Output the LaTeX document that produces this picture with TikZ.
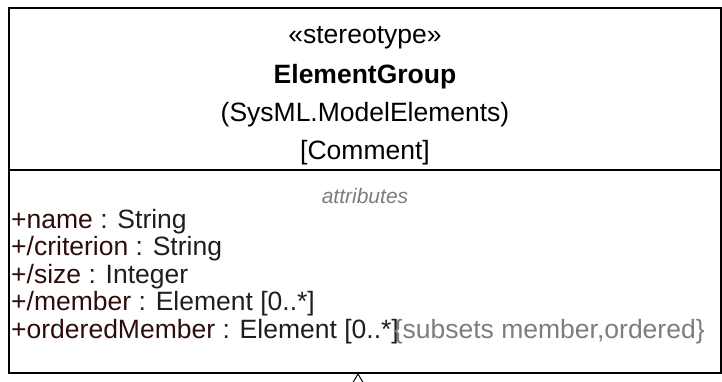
\documentclass[tikz,border=0pt]{standalone}
\usepackage{fontspec}
\usetikzlibrary{arrows.meta}
\newfontfamily\umlfont{Liberation Sans}
\definecolor{namecol}{RGB}{45,12,12}
\definecolor{typecol}{RGB}{30,30,30}
\definecolor{notecol}{RGB}{125,125,125}

\begin{document}
\begin{tikzpicture}[x=1pt,y=-1pt]
        \tikzset{
            hdr/.style={anchor=base, inner sep=0pt, font=\umlfont\fontsize{26.5}{30}\selectfont},
            attr/.style={anchor=base west, inner sep=0pt, text=typecol, font=\umlfont\fontsize{26.5}{30}\selectfont},
            compartment/.style={anchor=base, inner sep=0pt, text=notecol, font=\umlfont\itshape\fontsize{21}{24}\selectfont}
        }
        \useasboundingbox (0,0) rectangle (722,382);

        % Define the coordinates for the class box
        \coordinate (NW) at (9,8);
        \coordinate (SE) at (721,373);
        \coordinate (divL) at (9,170);
        \coordinate (divR) at (721,170);
        \coordinate (tip) at (358,373);
        \coordinate (sub) at (358,420);

        % Draw the box and the compartment line
        \draw[line width=2.5pt] (NW) rectangle (SE);
        \draw[line width=2.5pt] (divL) -- (divR);

        % Header compartment
        \node[hdr] (stereo) at (365,44) {«stereotype»};
        \node[hdr, font=\umlfont\bfseries\fontsize{26.5}{30}\selectfont] (clsname) at (365,84) {ElementGroup};
        \node[hdr] (pkg) at (365,122) {(SysML.ModelElements)};
        \node[hdr] (base) at (365,160) {[Comment]};

        % Attribute compartment
        \node[compartment] (attrtitle) at (365,203) {attributes};
        \node[attr] (aname) at (11,228) {\textcolor{namecol}{+name} : String};
        \node[attr] (acrit) at (11,255.5) {\textcolor{namecol}{+/criterion} : String};
        \node[attr] (asize) at (11,283) {\textcolor{namecol}{+/size} : Integer};
        \node[attr] (amember) at (11,310.5) {\textcolor{namecol}{+/member} : Element [0..*]};
        \node[attr] (aordered) at (11,338) {\textcolor{namecol}{+orderedMember} : Element [0..*]\kern-5pt\textcolor{notecol}{\{subsets member,ordered\}}};

        % Generalization coming in from below
        \draw[line width=1pt, -{Triangle[open, width=14pt, length=12pt]}] (sub) -- (tip);
\end{tikzpicture}
\end{document}
